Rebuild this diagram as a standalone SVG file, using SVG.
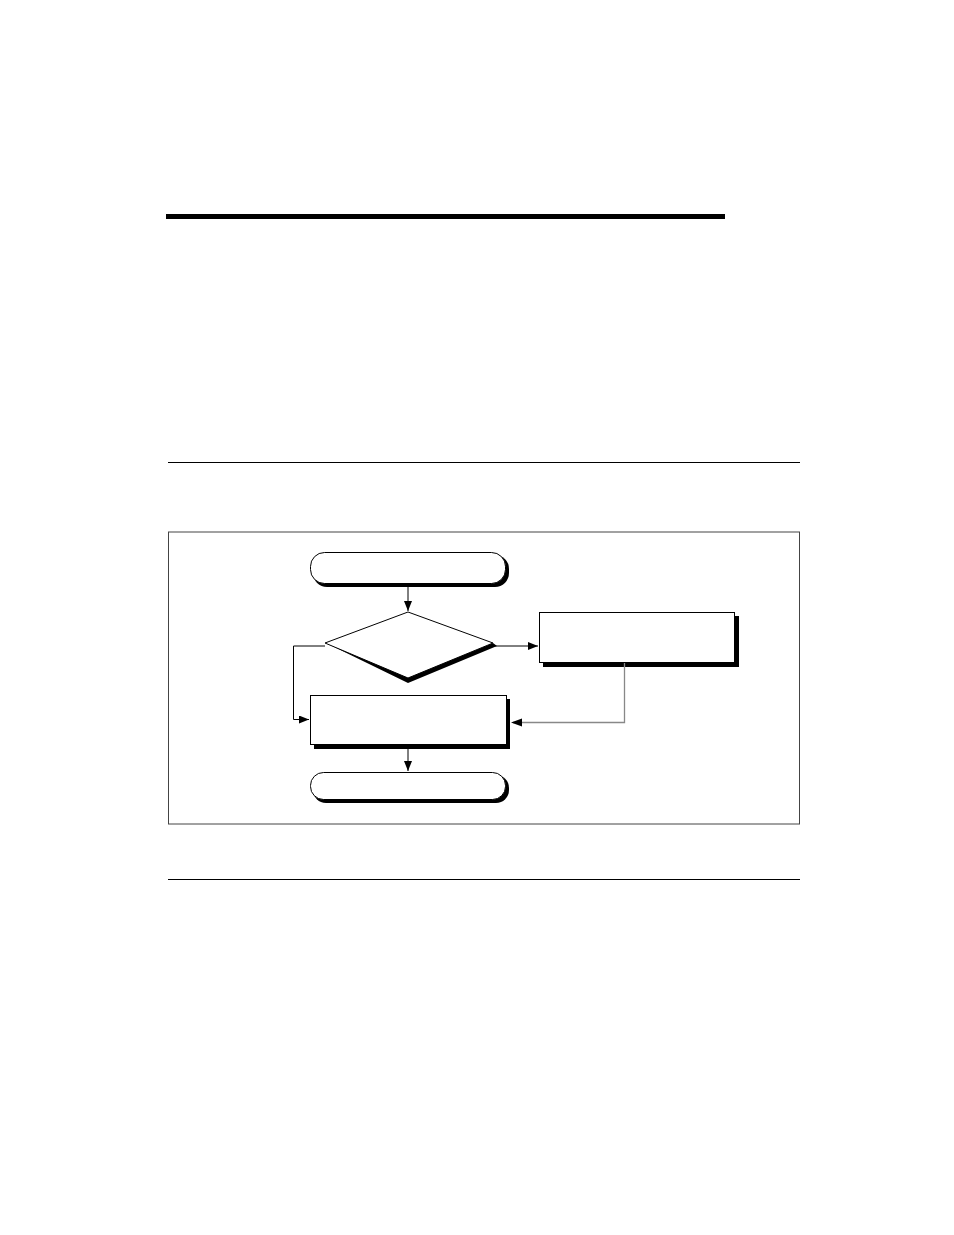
<svg xmlns="http://www.w3.org/2000/svg" width="954" height="1235" viewBox="0 0 954 1235">
<defs>
<style>
.rule{stroke:#000;stroke-width:1.2;fill:none}
.node{fill:#fff;stroke:#000;stroke-width:1}
.shadow{fill:#000;stroke:none}
.conn{stroke:#000;stroke-width:1;fill:none}
.conn-gray{stroke:#888;stroke-width:1.3;fill:none}
</style>
<marker id="arr" markerWidth="10" markerHeight="8" refX="10" refY="4" orient="auto" markerUnits="userSpaceOnUse">
<path d="M0,0 L10,4 L0,8 Z" fill="#000"/>
</marker>
</defs>
<rect width="954" height="1235" fill="#fff"/>
<rect x="166" y="214" width="559" height="5" fill="#000"/>
<line class="rule" x1="168" y1="462.5" x2="800" y2="462.5"/>
<line class="rule" x1="168" y1="879.5" x2="800" y2="879.5"/>
<rect x="168.5" y="532" width="631" height="292" fill="none" stroke="#444" stroke-width="1"/>

<g id="start">
<rect class="shadow" x="313" y="555" width="196" height="32" rx="14"/>
<rect class="node" x="310.5" y="552.5" width="195" height="31" rx="14"/>
</g>
<g id="decision">
<polygon class="shadow" points="326,643 408,683 497,646 493,643 408,677"/>
<polygon class="node" points="408,612 493,643 408,678 325,643"/>
</g>
<g id="process-right">
<rect class="shadow" x="543" y="616" width="196" height="51"/>
<rect class="node" x="539.5" y="612.5" width="195" height="50"/>
</g>
<g id="process-main">
<rect class="shadow" x="314" y="699" width="196" height="50"/>
<rect class="node" x="310.5" y="695.5" width="196" height="49"/>
</g>
<g id="end">
<rect class="shadow" x="313" y="775" width="196" height="28" rx="13"/>
<rect class="node" x="310.5" y="772.5" width="195" height="27" rx="13"/>
</g>
<g id="connectors">
<line class="conn" x1="408" y1="587" x2="408" y2="611" marker-end="url(#arr)"/>
<line class="conn" x1="495" y1="646" x2="538" y2="646" marker-end="url(#arr)"/>
<polyline class="conn" points="325,646 293.5,646 293.5,719.5 309,719.5" marker-end="url(#arr)"/>
<polyline class="conn-gray" points="624.5,663 624.5,722.5 513,722.5"/>
<path d="M511,722.5 L522,718.5 L522,726.5 Z" fill="#000"/>
<line class="conn" x1="408" y1="749" x2="408" y2="771" marker-end="url(#arr)"/>
</g>
</svg>
